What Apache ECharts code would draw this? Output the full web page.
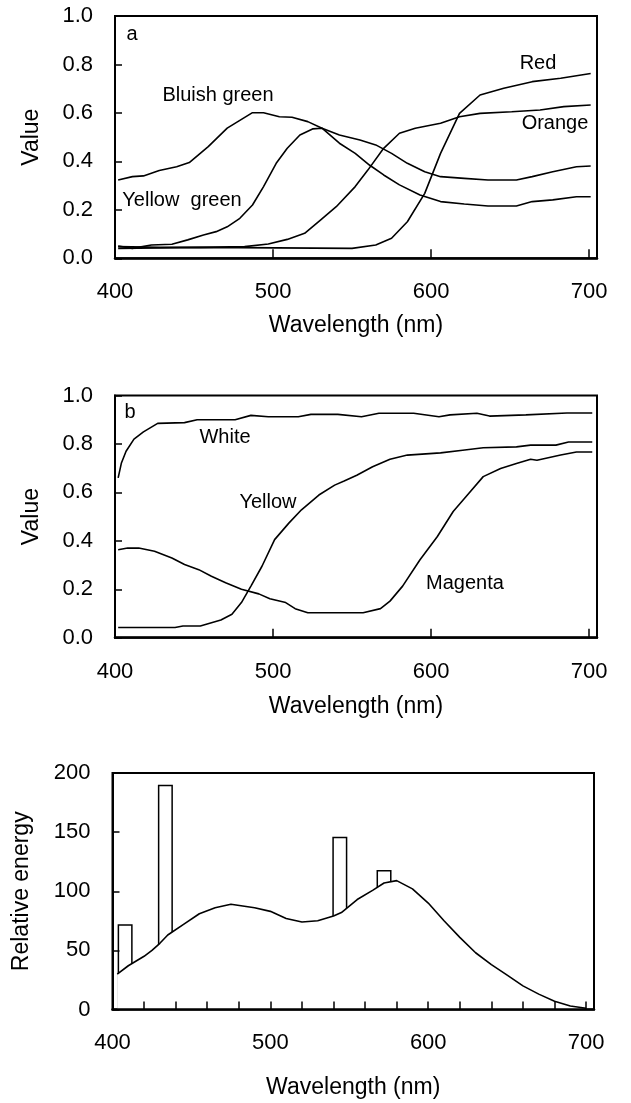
<!DOCTYPE html>
<html>
<head>
<meta charset="utf-8">
<script src="https://cdn.jsdelivr.net/npm/echarts@6/dist/echarts.min.js"></script>
<style>
html, body { margin: 0; padding: 0; background: #fff; }
#main { width: 631px; height: 1103px; }
</style>
</head>
<body>
<div id="main"></div>
<script>
// panel a - [wavelength, value]
let bluishGreen = [[402,0.323],[411,0.337],[418,0.34],[428,0.362],[439,0.378],[447,0.395],[459,0.461],[471,0.537],[487,0.601],[494,0.601],[504,0.584],[512,0.582],[522,0.564],[531,0.537],[542,0.475],[552,0.433],[561,0.385],[570,0.344],[580,0.303],[593,0.261],[606,0.234],[621,0.224],[636,0.216],[654,0.216],[664,0.234],[677,0.241],[692,0.254],[701,0.254]]
let yellowGreen = [[402,0.051],[411,0.041],[423,0.055],[436,0.058],[446,0.076],[456,0.096],[464,0.11],[471,0.13],[479,0.165],[487,0.22],[494,0.296],[502,0.392],[509,0.454],[517,0.509],[525,0.534],[531,0.537],[542,0.509],[555,0.488],[565,0.468],[575,0.433],[585,0.392],[596,0.357],[606,0.337],[621,0.33],[636,0.323],[654,0.323],[664,0.337],[677,0.357],[692,0.378],[701,0.381]]
let orange = [[402,0.048],[428,0.045],[454,0.045],[482,0.048],[497,0.059],[509,0.078],[520,0.103],[530,0.158],[540,0.213],[552,0.296],[560,0.364],[570,0.454],[580,0.516],[590,0.537],[606,0.557],[618,0.584],[631,0.598],[651,0.605],[669,0.612],[684,0.626],[701,0.633]]
let red = [[402,0.041],[454,0.045],[550,0.041],[565,0.055],[575,0.083],[585,0.151],[596,0.268],[606,0.433],[618,0.598],[631,0.674],[646,0.702],[664,0.729],[682,0.743],[701,0.763]]

// panel b
let white = [[402,0.66],[404,0.72],[407,0.77],[412,0.82],[418,0.85],[427,0.885],[444,0.888],[452,0.9],[476,0.9],[486,0.918],[497,0.912],[516,0.912],[524,0.922],[541,0.922],[556,0.912],[567,0.927],[589,0.927],[605,0.912],[612,0.92],[629,0.927],[637,0.915],[660,0.92],[686,0.928],[702,0.928]]
let yellow = [[402,0.042],[438,0.042],[443,0.048],[454,0.048],[467,0.073],[474,0.097],[480,0.145],[486,0.213],[493,0.295],[501,0.405],[510,0.473],[518,0.528],[529,0.589],[539,0.63],[545,0.647],[553,0.671],[563,0.706],[574,0.737],[585,0.754],[606,0.763],[620,0.774],[633,0.784],[654,0.788],[663,0.795],[679,0.795],[687,0.808],[702,0.808]]
let magenta = [[402,0.363],[408,0.37],[415,0.37],[425,0.357],[436,0.329],[444,0.302],[453,0.281],[461,0.254],[470,0.227],[480,0.2],[491,0.181],[498,0.161],[508,0.145],[514,0.12],[522,0.103],[557,0.103],[568,0.12],[574,0.151],[582,0.213],[593,0.322],[604,0.418],[614,0.521],[623,0.589],[633,0.665],[644,0.699],[654,0.719],[663,0.737],[667,0.733],[682,0.754],[692,0.767],[702,0.767]]

// panel c
let lampCurve = [[403,30],[410,37],[420,45],[425,50],[430,56],[435,63],[445,72],[455,81],[465,86],[475,89],[490,86],[500,83],[510,77],[520,74],[530,75],[540,79],[545,82],[555,93],[565,101],[572,107],[580,109],[590,102],[600,90],[610,75],[620,61],[630,48],[640,38],[650,29],[660,20],[670,13],[680,7],[690,3],[700,1]]
let lampLines = [[408,72],[433.5,190],[544,146],[572,118]]

const FONT = "'Liberation Sans', Arial, sans-serif"
let myChart = echarts.init(document.getElementById('main'))

function xAxisOf (gi, interval, tickLen, labelMargin, nameGap) {
  return {
    gridIndex: gi,
    type: 'value',
    min: 400,
    max: 705,
    interval: interval,
    z: 10,
    axisLine: { show: true, onZero: false, lineStyle: { color: '#000', width: 2.5 } },
    axisTick: { show: true, inside: true, length: tickLen, lineStyle: { color: '#000', width: 1.5 } },
    splitLine: { show: false },
    axisLabel: {
      margin: labelMargin,
      color: '#000',
      fontSize: 22,
      fontFamily: FONT,
      formatter: function (v) { return v % 100 === 0 ? String(v) : '' }
    },
    name: 'Wavelength (nm)',
    nameLocation: 'middle',
    nameGap: nameGap,
    nameTextStyle: { color: '#000', fontSize: 23, fontFamily: FONT }
  }
}

function yAxisOf (gi, max, interval, name, nameGap, fmt) {
  return {
    gridIndex: gi,
    type: 'value',
    min: 0,
    max: max,
    interval: interval,
    z: 10,
    axisLine: { show: true, lineStyle: { color: '#000', width: 2 } },
    axisTick: { show: true, inside: true, length: 7, lineStyle: { color: '#000', width: 1.5 } },
    splitLine: { show: false },
    axisLabel: { margin: 22, color: '#000', fontSize: 22, fontFamily: FONT, formatter: fmt },
    name: name,
    nameLocation: 'middle',
    nameRotate: 90,
    nameGap: nameGap,
    nameTextStyle: { color: '#000', fontSize: 23, fontFamily: FONT }
  }
}

function lineOf (data, gi) {
  return {
    type: 'line',
    xAxisIndex: gi,
    yAxisIndex: gi,
    data: data,
    symbol: 'none',
    smooth: false,
    lineStyle: { color: '#000', width: 1.6 },
    z: 3
  }
}

function note (text, x, y) {
  return {
    type: 'text',
    x: x,
    y: y,
    style: { text: text, align: 'center', verticalAlign: 'middle', fontSize: 20, fontFamily: FONT, fill: '#000' }
  }
}

let gridStyle = { show: true, borderColor: '#000', borderWidth: 2, backgroundColor: 'transparent' }
// white area under the lamp curve hides the lower part of the line bars
let curveC = lineOf(lampCurve, 2)
curveC.areaStyle = { color: '#fff', opacity: 1 }

myChart.setOption({
  animation: false,
  grid: [
    Object.assign({ left: 115, top: 16, width: 482, height: 242.3 }, gridStyle),
    Object.assign({ left: 115, top: 395.5, width: 482, height: 242.2 }, gridStyle),
    Object.assign({ left: 112.5, top: 773, width: 481.5, height: 236.5 }, gridStyle)
  ],
  xAxis: [
    xAxisOf(0, 100, 9, 23, 56),
    xAxisOf(1, 100, 9, 23, 57),
    xAxisOf(2, 20, 8, 22, 67)
  ],
  yAxis: [
    yAxisOf(0, 1, 0.2, 'Value', 72, function (v) { return v.toFixed(1) }),
    yAxisOf(1, 1, 0.2, 'Value', 72, function (v) { return v.toFixed(1) }),
    yAxisOf(2, 200, 50, 'Relative energy', 79, function (v) { return String(v) })
  ],
  series: [
    lineOf(bluishGreen, 0),
    lineOf(yellowGreen, 0),
    lineOf(orange, 0),
    lineOf(red, 0),
    lineOf(white, 1),
    lineOf(yellow, 1),
    lineOf(magenta, 1),
    {
      type: 'bar',
      xAxisIndex: 2,
      yAxisIndex: 2,
      data: lampLines,
      barWidth: 15,
      itemStyle: { color: '#fff', borderColor: '#000', borderWidth: 1.5 },
      z: 2
    },
    curveC
  ],
  graphic: [
    note('a', 132, 34),
    note('Bluish green', 218, 95),
    note('Yellow  green', 182, 200),
    note('Red', 538, 63),
    note('Orange', 555, 123),
    note('b', 130, 412),
    note('White', 225, 437),
    note('Yellow', 268, 502),
    note('Magenta', 465, 583)
  ]
})
</script>
</body>
</html>
